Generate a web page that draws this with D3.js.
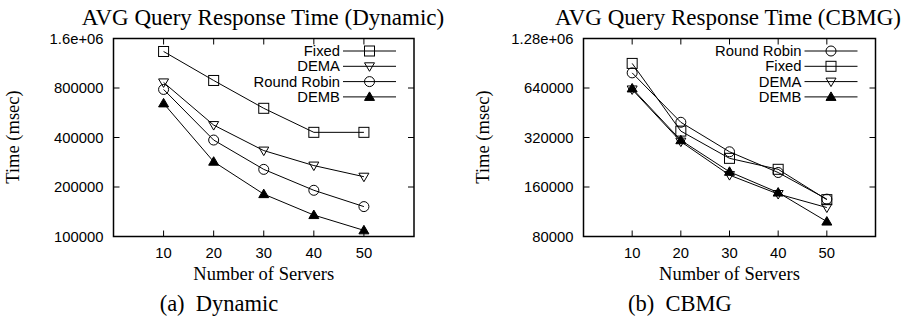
<!DOCTYPE html>
<html lang="en">
<head>
<meta charset="UTF-8">
<script src="https://d3js.org/d3.v7.min.js"></script>
<style>
  body { margin: 0; background: #fff; }
  text { fill: #000; }
  .serif { font-family: "Liberation Serif", "Times New Roman", serif; }
  .sans { font-family: "Liberation Sans", Arial, sans-serif; }
</style>
</head>
<body>
<div id="chart"></div>
<script>
// data
const servers = [10, 20, 30, 40, 50]
const xTicks = [10, 20, 30, 40, 50]

// (a) Dynamic
const dynFixed = [1334000, 889000, 602000, 430000, 430000]
const dynDEMA = [865000, 476000, 333000, 270000, 231000]
const dynRoundRobin = [784000, 386000, 256000, 191000, 152000]
const dynDEMB = [645000, 285000, 181000, 135000, 109000]
const dynTicks = [100000, 200000, 400000, 800000, 1600000]
const dynTickLabels = ["100000", "200000", "400000", "800000", "1.6e+06"]

// (b) CBMG
const cbmgRoundRobin = [791000, 396000, 262000, 196000, 135000]
const cbmgFixed = [903000, 350000, 239000, 205000, 134000]
const cbmgDEMA = [627000, 302000, 189000, 145000, 120000]
const cbmgDEMB = [636000, 308000, 198000, 148000, 98600]
const cbmgTicks = [80000, 160000, 320000, 640000, 1280000]
const cbmgTickLabels = ["80000", "160000", "320000", "640000", "1.28e+06"]

const width = 913
const height = 321

const svg = d3.select("#chart")
    .append("svg")
    .attr("width", width)
    .attr("height", height)

// draw one gnuplot style marker
function marker(g, type, x, y) {
    const s = 5
    if (type == "square") {
        g.append("rect").attr("x", x - s).attr("y", y - s)
            .attr("width", 2 * s).attr("height", 2 * s)
            .attr("fill", "none").attr("stroke", "#000").attr("stroke-width", 1)
    } else if (type == "circle") {
        g.append("circle").attr("cx", x).attr("cy", y).attr("r", s)
            .attr("fill", "none").attr("stroke", "#000").attr("stroke-width", 1)
    } else if (type == "tridown") {
        g.append("path")
            .attr("d", `M${x - s},${y - s * 0.7}L${x + s},${y - s * 0.7}L${x},${y + s}Z`)
            .attr("fill", "none").attr("stroke", "#000").attr("stroke-width", 1)
    } else if (type == "triup") {
        g.append("path")
            .attr("d", `M${x - s},${y + s * 0.7}L${x + s},${y + s * 0.7}L${x},${y - s}Z`)
            .attr("fill", "#000").attr("stroke", "#000").attr("stroke-width", 1)
    }
}

function panel(opt) {
    const g = svg.append("g")
    const x = d3.scaleLinear().domain([0, 60]).range([opt.left, opt.right])
    const y = d3.scaleLog().base(2).domain([opt.ticks[0], opt.ticks[opt.ticks.length - 1]])
        .range([236.5, 38.5])

    // frame
    g.append("rect")
        .attr("x", opt.left).attr("y", 38.5)
        .attr("width", opt.right - opt.left).attr("height", 198)
        .attr("fill", "none").attr("stroke", "#000").attr("stroke-width", 1.5)

    // inward ticks on all four sides
    const tl = 6
    xTicks.forEach(t => {
        g.append("line").attr("x1", x(t)).attr("x2", x(t)).attr("y1", 236.5).attr("y2", 236.5 - tl)
            .attr("stroke", "#000")
        g.append("line").attr("x1", x(t)).attr("x2", x(t)).attr("y1", 38.5).attr("y2", 38.5 + tl)
            .attr("stroke", "#000")
        g.append("text").attr("class", "sans").attr("x", x(t)).attr("y", 258)
            .attr("text-anchor", "middle").attr("font-size", 14.8).text(t)
    })
    opt.ticks.forEach((t, i) => {
        g.append("line").attr("x1", opt.left).attr("x2", opt.left + tl).attr("y1", y(t)).attr("y2", y(t))
            .attr("stroke", "#000")
        g.append("line").attr("x1", opt.right).attr("x2", opt.right - tl).attr("y1", y(t)).attr("y2", y(t))
            .attr("stroke", "#000")
        g.append("text").attr("class", "sans").attr("x", opt.left - 10).attr("y", y(t) + 5)
            .attr("text-anchor", "end").attr("font-size", 14.8).text(opt.tickLabels[i])
    })

    const line = d3.line().x((d, i) => x(servers[i])).y(d => y(d))

    opt.series.forEach(s => {
        g.append("path").datum(s.values)
            .attr("d", line)
            .attr("fill", "none").attr("stroke", "#000").attr("stroke-width", 1)
        s.values.forEach((v, i) => marker(g, s.marker, x(servers[i]), y(v)))
    })

    // legend
    opt.series.forEach((s, i) => {
        const ly = 51 + i * 15.3
        const lx = opt.right - 18
        g.append("text").attr("class", "sans").attr("x", lx - 56).attr("y", ly + 5)
            .attr("text-anchor", "end").attr("font-size", 14.8).text(s.name)
        g.append("line").attr("x1", lx - 53).attr("x2", lx).attr("y1", ly).attr("y2", ly)
            .attr("stroke", "#000")
        marker(g, s.marker, lx - 26.5, ly)
    })

    // titles
    g.append("text").attr("class", "serif").attr("x", opt.titleX).attr("y", 25)
        .attr("text-anchor", "middle").attr("font-size", 23).text(opt.title)
    g.append("text").attr("class", "serif").attr("x", (opt.left + opt.right) / 2).attr("y", 280)
        .attr("text-anchor", "middle").attr("font-size", 18.5).text("Number of Servers")
    g.append("text").attr("class", "serif")
        .attr("transform", `translate(${opt.yLabelX},137) rotate(-90)`)
        .attr("text-anchor", "middle").attr("font-size", 18.5).text("Time (msec)")
    g.append("text").attr("class", "serif").attr("x", opt.captionX).attr("y", 311)
        .attr("text-anchor", "middle").attr("font-size", 22.5)
        .style("white-space", "pre").text(opt.caption)
}

panel({
    left: 113.5, right: 414,
    ticks: dynTicks, tickLabels: dynTickLabels,
    title: "AVG Query Response Time (Dynamic)", titleX: 263,
    caption: "(a)  Dynamic", captionX: 219, yLabelX: 19,
    series: [
        {name: "Fixed", values: dynFixed, marker: "square"},
        {name: "DEMA", values: dynDEMA, marker: "tridown"},
        {name: "Round Robin", values: dynRoundRobin, marker: "circle"},
        {name: "DEMB", values: dynDEMB, marker: "triup"}
    ]
})

panel({
    left: 583.5, right: 875.5,
    ticks: cbmgTicks, tickLabels: cbmgTickLabels,
    title: "AVG Query Response Time (CBMG)", titleX: 728,
    caption: "(b)  CBMG", captionX: 680, yLabelX: 489,
    series: [
        {name: "Round Robin", values: cbmgRoundRobin, marker: "circle"},
        {name: "Fixed", values: cbmgFixed, marker: "square"},
        {name: "DEMA", values: cbmgDEMA, marker: "tridown"},
        {name: "DEMB", values: cbmgDEMB, marker: "triup"}
    ]
})
</script>
</body>
</html>
